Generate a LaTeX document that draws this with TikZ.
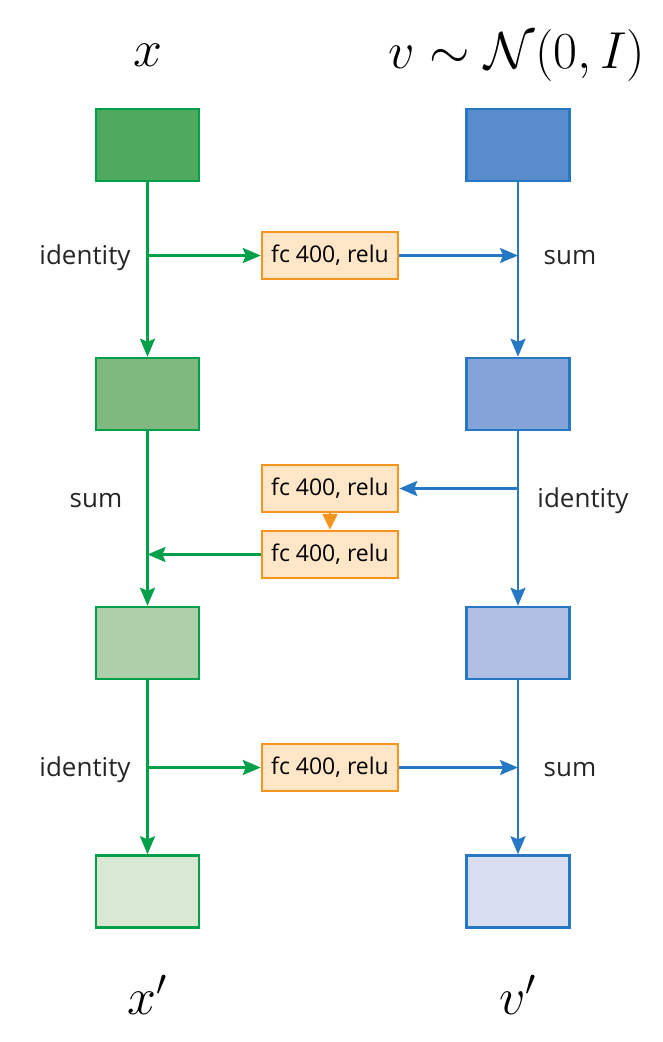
\documentclass[tikz,border=0pt]{standalone}
\usepackage{fix-cm}
\usepackage{amsmath}
\usepackage{fontspec}
\usetikzlibrary{arrows.meta}
\newfontfamily\labelfont{Open Sans}

\definecolor{gline}{RGB}{0,160,75}
\definecolor{bline}{RGB}{38,120,196}
\definecolor{oline}{RGB}{247,148,29}
\definecolor{ofill}{RGB}{255,230,199}
\definecolor{gfillA}{RGB}{79,170,96}
\definecolor{gfillB}{RGB}{127,185,128}
\definecolor{gfillC}{RGB}{173,207,169}
\definecolor{gfillD}{RGB}{217,232,211}
\definecolor{bfillA}{RGB}{90,139,203}
\definecolor{bfillB}{RGB}{132,164,216}
\definecolor{bfillC}{RGB}{175,192,228}
\definecolor{bfillD}{RGB}{216,222,240}

\tikzset{
    layer/.style={rectangle, draw, line width=2.5pt, minimum width=103pt, minimum height=72pt, inner sep=0pt},
    fcbox/.style={rectangle, draw=oline, fill=ofill, line width=2.5pt, minimum width=136pt, minimum height=47pt, inner sep=0pt, font=\labelfont\fontsize{23}{27}\selectfont},
    lbl/.style={font=\labelfont\fontsize{26}{30}\selectfont, text=black!85},
    var/.style={font=\fontsize{52}{60}\selectfont},
    garrow/.style={draw=gline, line width=2.5pt, -{Stealth[length=18pt,width=15pt,inset=3pt]}},
    barrow/.style={draw=bline, line width=2.5pt, -{Stealth[length=18pt,width=15pt,inset=3pt]}},
}

\begin{document}
\begin{tikzpicture}[x=1pt, y=-1pt]
                    \useasboundingbox (0,0) rectangle (663,1042);
                    % Nodes
                    \node[var] (x) at (147.5,55) {$x$};
                    \node[var] (v) at (517,55) {$v\sim\mathcal{N}(0,I)$};
                    \node[var] (x') at (147.5,995) {$x'$};
                    \node[var] (v') at (518,995) {$v'$};
                    \node[layer, draw=gline, fill=gfillA] (g1) at (147.5,145) {};
                    \node[layer, draw=gline, fill=gfillB] (g2) at (147.5,394) {};
                    \node[layer, draw=gline, fill=gfillC] (g3) at (147.5,643) {};
                    \node[layer, draw=gline, fill=gfillD] (g4) at (147.5,891.5) {};
                    \node[layer, draw=bline, fill=bfillA] (b1) at (518,145) {};
                    \node[layer, draw=bline, fill=bfillB] (b2) at (518,394) {};
                    \node[layer, draw=bline, fill=bfillC] (b3) at (518,643) {};
                    \node[layer, draw=bline, fill=bfillD] (b4) at (518,891.5) {};
                    \node[fcbox] (fc1) at (330,255.5) {fc 400, relu};
                    \node[fcbox] (fc2) at (330,488.5) {fc 400, relu};
                    \node[fcbox] (fc3) at (330,554.5) {fc 400, relu};
                    \node[fcbox] (fc4) at (330,767.5) {fc 400, relu};
                    \node[lbl] (l1) at (85,258) {identity};
                    \node[lbl] (l2) at (570,258) {sum};
                    \node[lbl] (l3) at (96,501) {sum};
                    \node[lbl] (l4) at (583,501) {identity};
                    \node[lbl] (l5) at (85,770) {identity};
                    \node[lbl] (l6) at (570,770) {sum};
                    \coordinate (gs1) at (147.5,255.5);
                    \coordinate (bs1) at (518,255.5);
                    \coordinate (bs2) at (518,488.5);
                    \coordinate (gs2) at (147.5,554.5);
                    \coordinate (gs3) at (147.5,767.5);
                    \coordinate (bs3) at (518,767.5);
                    % Edges
                    \draw[garrow] (g1) -- (g2);
                    \draw[garrow] (g2) -- (g3);
                    \draw[garrow] (g3) -- (g4);
                    \draw[barrow] (b1) -- (b2);
                    \draw[barrow] (b2) -- (b3);
                    \draw[barrow] (b3) -- (b4);
                    \draw[garrow] (gs1) -- (fc1);
                    \draw[barrow] (fc1) -- (bs1);
                    \draw[barrow] (bs2) -- (fc2);
                    \draw[draw=oline, line width=2.5pt, -{Triangle[length=16pt,width=15pt]}] (fc2) -- (fc3);
                    \draw[garrow] (fc3) -- (gs2);
                    \draw[garrow] (gs3) -- (fc4);
                    \draw[barrow] (fc4) -- (bs3);
                \end{tikzpicture}
\end{document}
